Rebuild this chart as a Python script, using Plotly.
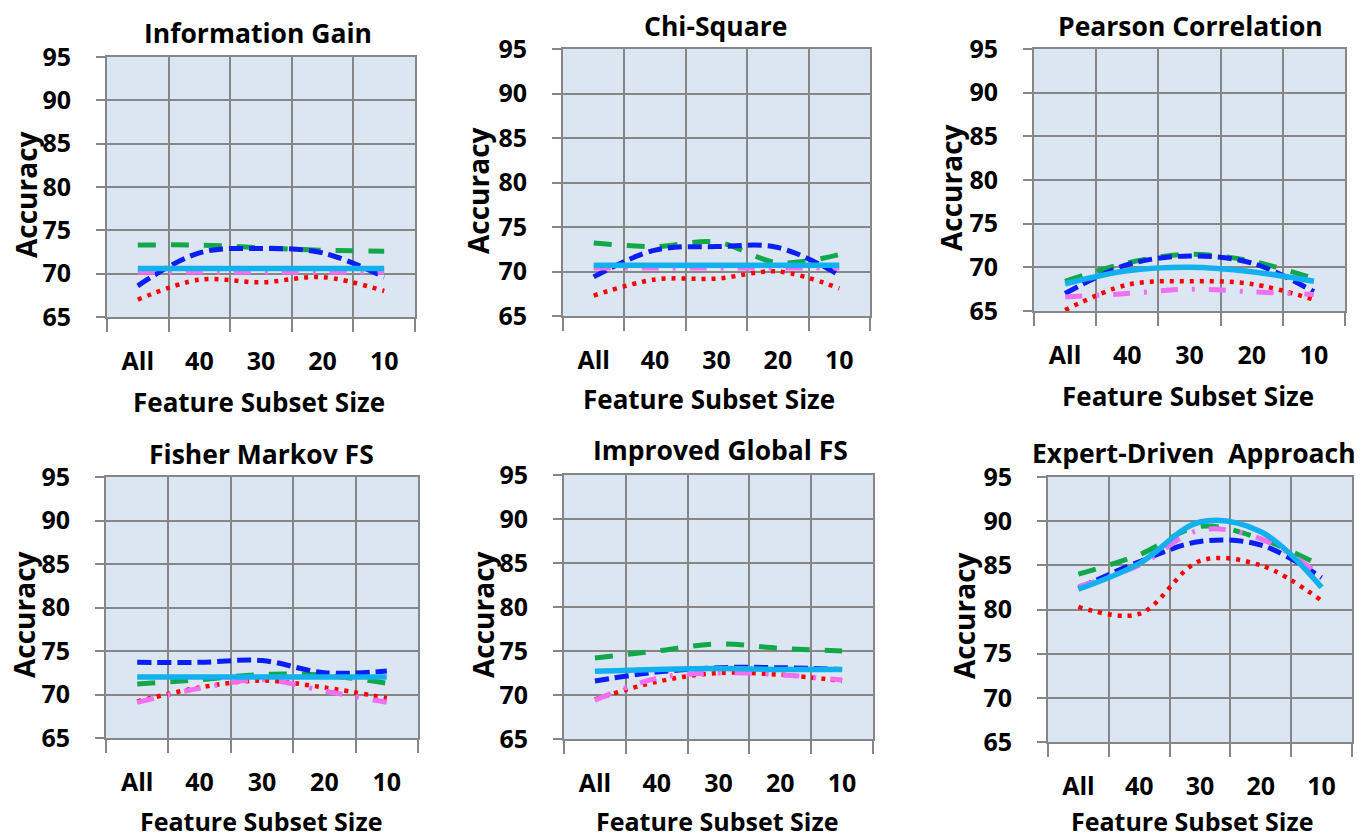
import plotly.graph_objects as go

# Feature subset sizes (x categories) and panel titles
CATEGORIES = ["All", "40", "30", "20", "10"]
PANEL_TITLES = [
    "Information Gain",
    "Chi-Square",
    "Pearson Correlation",
    "Fisher Markov FS",
    "Improved Global FS",
    "Expert-Driven\u00a0 Approach",
]

# Accuracy per classifier, one row per panel (same order as PANEL_TITLES)
ACC_RED_DOTTED = [
    [67.0, 69.3, 69.0, 69.6, 68.0],
    [67.3, 69.1, 69.2, 70.0, 68.1],
    [65.1, 68.0, 68.4, 68.1, 66.3],
    [69.2, 70.8, 71.6, 70.8, 69.6],
    [69.5, 71.5, 72.5, 72.3, 71.6],
    [80.3, 79.5, 85.5, 85.0, 81.0],
]
ACC_GREEN_LONGDASH = [
    [73.3, 73.3, 73.0, 72.7, 72.6],
    [73.2, 72.8, 73.3, 71.0, 71.9],
    [68.4, 70.5, 71.5, 70.7, 68.7],
    [71.2, 71.7, 72.3, 72.2, 71.3],
    [74.2, 75.0, 75.8, 75.3, 75.0],
    [84.0, 86.2, 89.4, 88.0, 84.9],
]
ACC_BLUE_DASH = [
    [68.6, 72.4, 72.9, 72.4, 69.6],
    [69.4, 72.4, 72.8, 72.7, 69.6],
    [67.0, 70.3, 71.3, 70.5, 67.2],
    [73.7, 73.7, 73.9, 72.5, 72.7],
    [71.6, 72.6, 73.1, 73.1, 72.9],
    [82.4, 85.4, 87.7, 87.3, 83.6],
]
ACC_MAGENTA_DASHDOT = [
    [70.2, 70.2, 70.2, 70.2, 70.2],
    [70.4, 70.4, 70.4, 70.4, 70.4],
    [66.6, 67.0, 67.5, 67.2, 66.9],
    [69.1, 70.7, 71.7, 70.4, 69.1],
    [69.4, 71.9, 72.5, 72.3, 71.7],
    [82.6, 85.0, 89.0, 88.0, 83.8],
]
ACC_CYAN_SOLID = [
    [70.6, 70.6, 70.6, 70.6, 70.6],
    [70.7, 70.7, 70.7, 70.7, 70.7],
    [68.1, 69.6, 70.0, 69.5, 68.4],
    [72.0, 72.0, 72.0, 72.0, 72.0],
    [72.7, 72.9, 73.0, 72.9, 72.9],
    [82.3, 85.2, 89.9, 88.8, 82.5],
]

Y_RANGE = [65, 95]

# ---- layout geometry (pixels) ----
W, H = 1370, 839
# plot boxes: (left, right, top, bottom)
BOXES = [
    (107, 415, 57, 317),
    (563, 870, 49, 316),
    (1034, 1345, 49, 311),
    (106, 418, 477, 738),
    (564, 873, 475, 739),
    (1048, 1352, 477, 742),
]
TITLE_POS = [(258, 33), (715, 26), (1190, 26), (261, 454), (720, 450), (1194, 453)]
# (x, y, font size) of each "Feature Subset Size" label
XTITLE_POS = [(259, 402, 26), (709, 399, 26), (1188, 396, 26),
              (261, 821, 25), (717, 821, 25), (1192, 821, 25)]
YTITLE_POS = [(26, 195), (478, 190), (951, 188), (24, 615), (483, 615), (964, 616)]

FONT = "Open Sans"
GRID = "#868686"
PLOT_BG = "#dce6f2"

# series styles: (name, data, color, dash, width) drawn bottom to top
SERIES = [
    ("Classifier 1", ACC_RED_DOTTED, "#ff0000", "4px,6px", 4.5),
    ("Classifier 2", ACC_GREEN_LONGDASH, "#12a84a", "18px,15px", 5),
    ("Classifier 3", ACC_BLUE_DASH, "#0a1ef5", "14px,6px", 5),
    ("Classifier 4", ACC_MAGENTA_DASHDOT, "#f070f0", "17px,14px,3px,14px", 5),
    ("Classifier 5", ACC_CYAN_SOLID, "#12b0ee", "solid", 5.5),
]

x_pos = [i + 0.5 for i in range(len(CATEGORIES))]

fig = go.Figure()
layout = dict(
    width=W, height=H,
    margin=dict(l=0, r=0, t=0, b=0, autoexpand=False),
    paper_bgcolor="white",
    plot_bgcolor=PLOT_BG,
    showlegend=False,
    font=dict(family=FONT, color="black"),
    annotations=[],
)

for p, (l, r, t, b) in enumerate(BOXES):
    sfx = "" if p == 0 else str(p + 1)
    xa, ya = "x" + sfx, "y" + sfx
    for name, data, color, dash, width in SERIES:
        fig.add_trace(go.Scatter(
            x=x_pos, y=data[p], name=name, mode="lines",
            line=dict(color=color, dash=dash, width=width, shape="spline", smoothing=1),
            xaxis=xa, yaxis=ya, showlegend=False,
        ))
    layout["xaxis" + sfx] = dict(
        domain=[l / W, r / W], anchor=ya, range=[0, len(CATEGORIES)],
        automargin=False,
        tickmode="array", tickvals=x_pos, ticktext=CATEGORIES,
        ticks="outside", ticklen=21, tickcolor="rgba(0,0,0,0)",
        showgrid=False, zeroline=False,
        showline=True, mirror=True, linecolor=GRID, linewidth=2,
        tickfont=dict(family=FONT, size=25, weight="bold", color="black"),
        minor=dict(tickmode="array", tickvals=list(range(len(CATEGORIES) + 1)),
                   ticks="outside", ticklen=13, tickwidth=2, tickcolor=GRID,
                   showgrid=True, gridcolor=GRID, gridwidth=2),
        fixedrange=True,
    )
    layout["yaxis" + sfx] = dict(
        domain=[1 - b / H, 1 - t / H], anchor=xa, range=Y_RANGE,
        automargin=False,
        tickmode="linear", tick0=65, dtick=5,
        ticks="outside", ticklen=9, tickwidth=2, tickcolor=GRID,
        showgrid=True, gridcolor=GRID, gridwidth=2, zeroline=False,
        showline=True, mirror=True, linecolor=GRID, linewidth=2,
        ticklabelstandoff=20,
        tickfont=dict(family=FONT, size=25, weight="bold", color="black"),
        fixedrange=True,
    )
    tx, ty = TITLE_POS[p]
    layout["annotations"].append(dict(
        text=PANEL_TITLES[p], x=tx / W, y=1 - ty / H, xref="paper", yref="paper",
        xanchor="center", yanchor="middle", showarrow=False,
        font=dict(family=FONT, size=26.5, weight="bold", color="black"),
    ))
    fx, fy, fs = XTITLE_POS[p]
    layout["annotations"].append(dict(
        text="Feature Subset Size", x=fx / W, y=1 - fy / H, xref="paper", yref="paper",
        xanchor="center", yanchor="middle", showarrow=False,
        font=dict(family=FONT, size=fs, weight="bold", color="black"),
    ))
    ax_, ay_ = YTITLE_POS[p]
    layout["annotations"].append(dict(
        text="Accuracy", x=ax_ / W, y=1 - ay_ / H, xref="paper", yref="paper",
        xanchor="center", yanchor="middle", showarrow=False, textangle=-90,
        font=dict(family=FONT, size=28, weight="bold", color="black"),
    ))

fig.update_layout(**layout)
fig.write_html("out.html")
